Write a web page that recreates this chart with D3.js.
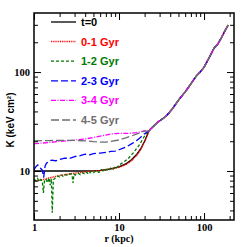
<!DOCTYPE html>
<html>
<head>
<meta charset="utf-8">
<script src="https://cdn.jsdelivr.net/npm/d3@7"></script>
<style>
  html, body { margin: 0; padding: 0; background: #fff; }
  .axis text { font-family: "Liberation Serif", serif; font-weight: bold; font-size: 10.5px; fill: #000; }
  .axis path { display: none; }
  .axis line { stroke: #000; stroke-width: 1; }
  .leg { font-family: "Liberation Sans", sans-serif; font-weight: bold; font-size: 11px; }
</style>
</head>
<body>
<div id="plot"></div>
<script>
const FRAME_WIDTH = 247;
const FRAME_HEIGHT = 247;
const MARGINS = {left: 34, right: 13, top: 13, bottom: 27};

// profile outside ~22 kpc, where all runs lie on top of each other
const rOuter = [22.5, 25, 29, 33, 37, 42, 50, 60, 70, 80, 90, 100, 115, 130, 145, 160, 175, 192];
const kOuter = [25.5, 28, 31.5, 34, 37, 42, 52, 63, 76, 90, 100, 112, 140, 172, 192, 222, 258, 298];

const rT0 = [1, 2, 3, 4, 5, 6, 7, 8, 10, 12, 14, 16, 18, 20];
const kT0 = [10, 10, 10, 10, 10.05, 10.15, 10.3, 10.5, 11, 11.8, 13, 14.6, 16.8, 20];

const rG01 = [1, 1.2, 1.5, 2, 2.5, 3, 4, 5, 6, 7, 8, 10, 12, 14, 16, 18, 20];
const kG01 = [7.9, 8.1, 8.5, 9, 9.3, 9.5, 9.8, 10, 10.1, 10.3, 10.5, 10.9, 11.6, 12.7, 14.3, 16.5, 19.8];

const rG12 = [1, 1.05, 1.1, 1.15, 1.2, 1.25, 1.29, 1.33, 1.38, 1.44, 1.5, 1.55, 1.6, 1.64, 1.69, 1.73, 1.8, 1.9, 2.0, 2.1, 2.2, 2.35, 2.5, 2.65, 2.8, 2.88, 2.95, 3.05, 3.15, 3.3, 3.5, 3.7, 3.9, 4.1, 4.4, 4.7, 5.0, 5.4, 5.8, 6.2, 6.6, 7.0, 7.5, 8, 8.5, 9, 9.5, 10, 11, 12, 13, 14, 15, 16, 17, 18, 19, 20, 21];
const kG12 = [8.3, 8.0, 8.4, 7.8, 8.2, 7.9, 6.0, 8.0, 8.3, 7.6, 8.5, 7.2, 8.4, 3.8, 8.2, 8.3, 8.6, 8.9, 8.7, 9.1, 8.8, 9.2, 9.0, 9.4, 9.1, 7.6, 9.3, 9.1, 9.3, 9.5, 9.2, 9.6, 9.4, 9.8, 9.3, 9.9, 9.6, 10.1, 9.7, 10.3, 9.9, 10.4, 10.1, 10.7, 10.4, 11.1, 10.9, 11.5, 12.1, 12.8, 13.5, 14.6, 15.5, 16.8, 17.9, 19.4, 21, 22.6, 24.2];

const rG23 = [1, 1.05, 1.1, 1.15, 1.2, 1.25, 1.3, 1.35, 1.4, 1.5, 1.6, 1.8, 2, 2.3, 2.6, 3, 3.5, 4, 4.5, 5, 6, 7, 8, 9, 10, 11, 12, 13, 14, 16, 18, 20];
const kG23 = [10.3, 11, 11.5, 11.3, 10.6, 10.2, 8.6, 11.2, 12, 12.4, 12.9, 12.7, 13.1, 13.5, 13.4, 14, 14.3, 14.8, 14.6, 15, 15.2, 15.4, 15.8, 15.9, 16.4, 16.9, 17.4, 18.1, 18.8, 20.2, 22, 23.8];

const rG34 = [1, 1.5, 2, 3, 4, 5, 6, 7, 8, 9, 10, 12, 14, 16, 18, 20];
const kG34 = [18.9, 19.4, 19.9, 20.5, 21.1, 21.8, 22.5, 23.1, 23.6, 23.9, 24, 24, 24.1, 24.4, 24.9, 25.5];

const rG45 = [1, 1.5, 2, 3, 4, 5, 6, 7, 8, 10, 12, 14, 16, 18, 20];
const kG45 = [20.2, 20.3, 20.4, 20.4, 20.2, 19.8, 19.6, 19.6, 19.9, 20.6, 21.6, 22.6, 23.6, 24.5, 25.3];

const labels = ["t=0", "0-1 Gyr", "1-2 Gyr", "2-3 Gyr", "3-4 Gyr", "4-5 Gyr"];
const radii = [rT0, rG01, rG12, rG23, rG34, rG45];
const entropy = [kT0, kG01, kG12, kG23, kG34, kG45];
const colors = ["#000000", "#ff0000", "#007a00", "#0000ff", "#ff00ff", "#6e6e6e"];
const dashes = ["none", "1,0.8", "3,2", "7,3", "5,1.5,1,1.5", "8,3"];

const xMajor = [1, 10, 100];
const xMinor = [2, 3, 4, 5, 6, 7, 8, 9, 20, 30, 40, 50, 60, 70, 80, 90, 200];
const yMajor = [10, 100];
const yMinor = [4, 5, 6, 7, 8, 9, 20, 30, 40, 50, 60, 70, 80, 90, 200, 300];

const VIS_WIDTH = FRAME_WIDTH - MARGINS.left - MARGINS.right;
const VIS_HEIGHT = FRAME_HEIGHT - MARGINS.top - MARGINS.bottom;

const X_SCALE = d3.scaleLog().domain([1, 225]).range([0, VIS_WIDTH]);
const Y_SCALE = d3.scaleLog().domain([3.2, 395]).range([VIS_HEIGHT, 0]);

const FRAME = d3.select("#plot")
  .append("svg")
    .attr("width", FRAME_WIDTH)
    .attr("height", FRAME_HEIGHT);

const G = FRAME.append("g")
  .attr("transform", "translate(" + MARGINS.left + "," + MARGINS.top + ")");

G.append("defs").append("clipPath").attr("id", "clip")
  .append("rect").attr("width", VIS_WIDTH).attr("height", VIS_HEIGHT);

// curves
const line = d3.line()
  .x(d => X_SCALE(d[0]))
  .y(d => Y_SCALE(d[1]));

const curves = G.append("g").attr("clip-path", "url(#clip)");
labels.forEach((name, i) => {
  const pts = radii[i].map((r, j) => [r, entropy[i][j]])
    .concat(rOuter.map((r, j) => [r, kOuter[j]]));
  curves.append("path")
    .attr("d", line(pts))
    .attr("fill", "none")
    .attr("stroke", colors[i])
    .attr("stroke-width", i == 1 ? 1.5 : 1.3)
    .attr("stroke-dasharray", dashes[i]);
});

// axes, ticks pointing inwards on all four sides
function addAxis(axisFn, scale, values, size, labelled, transform) {
  const ax = axisFn(scale).tickValues(values).tickSize(-size).tickPadding(labelled ? 4 : 0)
    .tickFormat(labelled ? d3.format("d") : "");
  G.append("g").attr("class", "axis").attr("transform", transform).call(ax);
}
addAxis(d3.axisBottom, X_SCALE, xMajor, 7, true, "translate(0," + VIS_HEIGHT + ")");
addAxis(d3.axisBottom, X_SCALE, xMinor, 4, false, "translate(0," + VIS_HEIGHT + ")");
addAxis(d3.axisTop, X_SCALE, xMajor, 7, false, "translate(0,0)");
addAxis(d3.axisTop, X_SCALE, xMinor, 4, false, "translate(0,0)");
addAxis(d3.axisLeft, Y_SCALE, yMajor, 7, true, "translate(0,0)");
addAxis(d3.axisLeft, Y_SCALE, yMinor, 4, false, "translate(0,0)");
addAxis(d3.axisRight, Y_SCALE, yMajor, 7, false, "translate(" + VIS_WIDTH + ",0)");
addAxis(d3.axisRight, Y_SCALE, yMinor, 4, false, "translate(" + VIS_WIDTH + ",0)");

G.append("rect")
  .attr("width", VIS_WIDTH)
  .attr("height", VIS_HEIGHT)
  .attr("fill", "none")
  .attr("stroke", "#000")
  .attr("stroke-width", 1.5);

// axis titles
G.append("text")
  .attr("x", X_SCALE(10))
  .attr("y", VIS_HEIGHT + 22)
  .attr("text-anchor", "middle")
  .style("font-family", "Liberation Serif, serif")
  .style("font-weight", "bold")
  .style("font-size", "10px")
  .text("r (kpc)");

G.append("text")
  .attr("transform", "translate(-20," + (120 - MARGINS.top) + ") rotate(-90)")
  .attr("text-anchor", "middle")
  .style("font-family", "Liberation Sans, sans-serif")
  .style("font-weight", "bold")
  .style("font-size", "10px")
  .text("K (keV cm\u00b2)");

// legend
const legend = G.append("g").attr("transform", "translate(17,9)");
labels.forEach((name, i) => {
  const y = i * 19.6;
  legend.append("line")
    .attr("x1", 0).attr("x2", 25)
    .attr("y1", y).attr("y2", y)
    .attr("stroke", colors[i])
    .attr("stroke-width", i == 1 ? 1.5 : 1.3)
    .attr("stroke-dasharray", dashes[i]);
  legend.append("text")
    .attr("class", "leg")
    .attr("x", 30)
    .attr("y", y + 4)
    .attr("fill", colors[i])
    .text(name);
});
</script>
</body>
</html>
